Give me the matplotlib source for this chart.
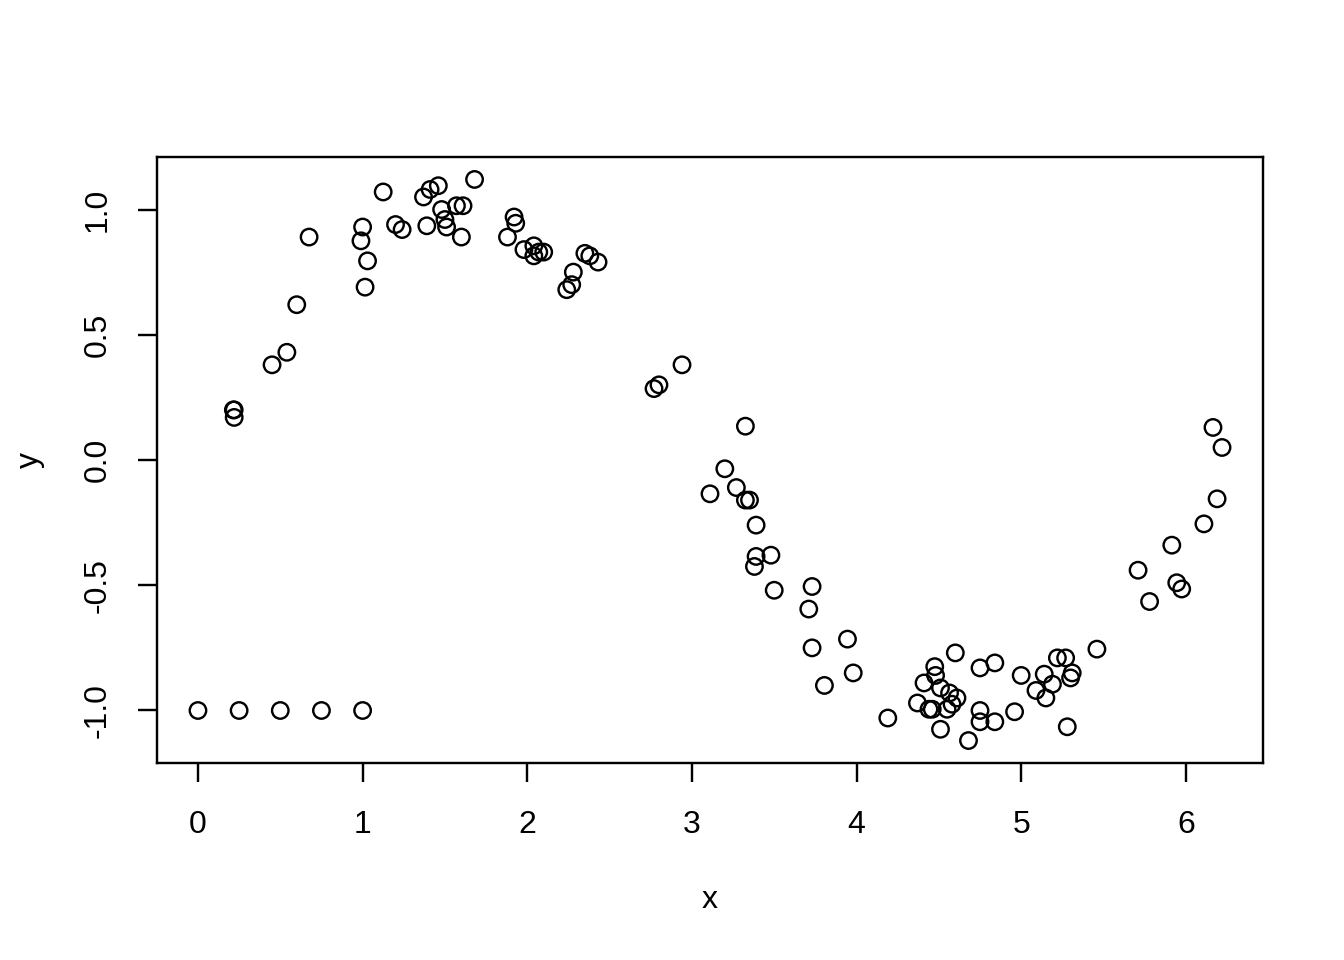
import numpy as np
import matplotlib
matplotlib.use("Agg")
import matplotlib.pyplot as plt

# Pontos (x, y)
x = [0.0, 0.25, 0.5, 0.75, 1.0,
     0.215, 0.22, 0.22, 0.45, 0.54, 0.60, 0.675,
     1.0, 0.99, 1.03, 1.015, 1.125, 1.20, 1.24,
     1.37, 1.39, 1.41, 1.46, 1.48, 1.50, 1.51, 1.57, 1.61, 1.60, 1.68,
     1.88, 1.92, 1.93, 1.98, 2.04, 2.04, 2.07, 2.10,
     2.24, 2.27, 2.28, 2.35, 2.38, 2.43,
     2.77, 2.80, 2.94,
     3.325, 3.20, 3.11, 3.27, 3.325, 3.35, 3.39, 3.39, 3.48, 3.38, 3.50,
     3.73, 3.71, 3.73, 3.945, 3.805, 3.98,
     4.19, 4.37, 4.41, 4.475, 4.48, 4.44, 4.46, 4.51, 4.55, 4.565, 4.58,
     4.61, 4.51, 4.60, 4.68, 4.75, 4.75, 4.75, 4.84, 4.84,
     4.96, 5.0, 5.09, 5.14, 5.15, 5.19, 5.22, 5.27, 5.31, 5.30, 5.28,
     5.46, 5.71, 5.78, 5.915, 5.945, 5.975, 6.11, 6.165, 6.19, 6.22]
y = [-1.0, -1.0, -1.0, -1.0, -1.0,
     0.20, 0.20, 0.17, 0.38, 0.43, 0.62, 0.89,
     0.93, 0.875, 0.795, 0.69, 1.07, 0.94, 0.92,
     1.05, 0.935, 1.08, 1.095, 1.0, 0.96, 0.93, 1.015, 1.015, 0.89, 1.12,
     0.89, 0.97, 0.945, 0.84, 0.855, 0.815, 0.83, 0.83,
     0.68, 0.70, 0.75, 0.825, 0.815, 0.79,
     0.285, 0.30, 0.38,
     0.135, -0.035, -0.135, -0.11, -0.16, -0.16, -0.26, -0.385, -0.38, -0.425, -0.52,
     -0.505, -0.595, -0.75, -0.715, -0.90, -0.85,
     -1.03, -0.97, -0.89, -0.825, -0.86, -0.995, -0.995, -0.91, -0.995, -0.93, -0.975,
     -0.95, -1.075, -0.77, -1.12, -0.83, -1.0, -1.045, -1.045, -0.81,
     -1.005, -0.86, -0.92, -0.855, -0.95, -0.895, -0.79, -0.79, -0.85, -0.87, -1.065,
     -0.755, -0.44, -0.565, -0.34, -0.49, -0.515, -0.255, 0.13, -0.155, 0.05]

xticks = [0, 1, 2, 3, 4, 5, 6]
yticks = [-1.0, -0.5, 0.0, 0.5, 1.0]

plt.rcParams['font.family'] = ['Liberation Sans', 'DejaVu Sans']

fig = plt.figure(figsize=(7, 5), dpi=192)
ax = fig.add_axes([157 / 1344, 1 - 763 / 960, (1263 - 157) / 1344, (763 - 157) / 960])

ax.scatter(x, y, s=38, facecolors='none', edgecolors='black', linewidths=0.9)

# Limites no estilo R (extensão de 4%)
xr = max(x) - min(x)
yr = max(y) - min(y)
ax.set_xlim(min(x) - 0.04 * xr, max(x) + 0.04 * xr)
ax.set_ylim(min(y) - 0.04 * yr, max(y) + 0.04 * yr)

ax.set_xticks(xticks)
ax.set_xticklabels([str(t) for t in xticks])
ax.set_yticks(yticks)
ax.set_yticklabels([f'{t:.1f}' for t in yticks], rotation=90, va='center')
ax.tick_params(direction='out', length=7, width=0.9, labelsize=12)
ax.tick_params(axis='x', pad=10.5)
ax.tick_params(axis='y', pad=9.5)

for s in ax.spines.values():
    s.set_linewidth(0.9)

ax.set_xlabel('x', fontsize=12)
ax.set_ylabel('y', fontsize=12)
ax.xaxis.set_label_coords(0.5, (763 - 900) / (763 - 157))
ax.xaxis.label.set_va('center')
ax.yaxis.set_label_coords((30 - 157) / (1263 - 157), 0.5)
ax.yaxis.label.set_va('center')

fig.savefig('out.png', dpi=192)
